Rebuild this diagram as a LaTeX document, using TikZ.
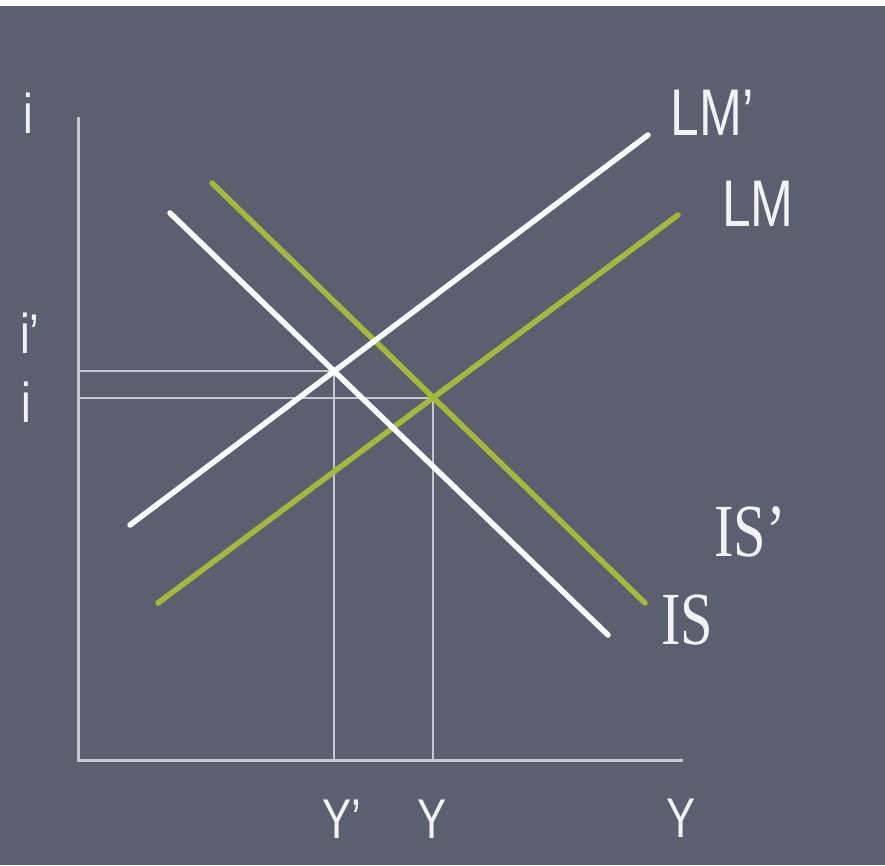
\documentclass[tikz,border=0pt]{standalone}
\usepackage{fontspec}
\setmainfont{Liberation Sans}
\newfontfamily\slabfont{Liberation Serif}
\usepackage{xcolor}
\definecolor{slate}{HTML}{5B5F6F}
\definecolor{curvegreen}{HTML}{A6B83C}
\definecolor{axisgray}{HTML}{C6C8D0}
\definecolor{labelwhite}{HTML}{F2F2F4}
\newcommand{\sq}[1]{\scalebox{0.78}[1]{#1}}

\begin{document}
\begin{tikzpicture}[x=1pt,y=-1pt,
    lbl/.style={text=labelwhite, inner sep=0pt, font=\fontsize{56}{60}\selectfont},
    curvelbl/.style={text=labelwhite, inner sep=0pt, font=\fontsize{66}{70}\selectfont},
    islbl/.style={text=labelwhite, inner sep=0pt, font=\slabfont\fontsize{75}{80}\selectfont},
    guide/.style={axisgray, line width=2pt},
    whiteline/.style={white, line width=5.5pt, line cap=round},
    greenline/.style={curvegreen, line width=5.5pt, line cap=round}]
    \fill[white] (0,0) rectangle (885,865);
    \fill[slate] (0,6) rectangle (885,865);
    \useasboundingbox (0,0) rectangle (885,865);

    % axes
    \coordinate (O) at (78,760);
    \coordinate (itop) at (78,117);
    \coordinate (yend) at (683,760);
    \draw[axisgray, line width=3pt] (itop) -- (O) -- (yend);

    % end points of the curves
    \coordinate (lmpA) at (130,525); \coordinate (lmpB) at (648,135);
    \coordinate (lmA) at (158,603);  \coordinate (lmB) at (678,215);
    \coordinate (ispA) at (170,213); \coordinate (ispB) at (608,635);
    \coordinate (isA) at (212,183);  \coordinate (isB) at (645,603);

    \coordinate (Ep) at (intersection of lmpA--lmpB and ispA--ispB);
    \coordinate (E) at (intersection of lmA--lmB and isA--isB);

    \draw[guide] (Ep -| O) -- (Ep) -- (Ep |- O);
    \draw[guide] (E -| O) -- (E) -- (E |- O);

    \draw[greenline] (lmA) -- (lmB);
    \draw[greenline] (isA) -- (isB);
    \draw[whiteline] (lmpA) -- (lmpB);
    \draw[whiteline] (ispA) -- (ispB);

    \node[curvelbl] (lmplabel) at (712,113) {\sq{LM’}};
    \node[curvelbl] (lmlabel) at (758,204) {\sq{LM}};
    \node[islbl] (isplabel) at (750,532) {\sq{IS’}};
    \node[islbl] (islabel) at (687,620) {\sq{IS}};

    \node[lbl] (iaxis) at (28,113) {\sq{i}};
    \node[lbl] (iplabel) at (30,333) {\sq{i’}};
    \node[lbl] (ilabel) at (26,402) {\sq{i}};
    \node[lbl] (yplabel) at (342,819) {\sq{Y’}};
    \node[lbl] (ylabel) at (432,819) {\sq{Y}};
    \node[lbl] (yaxis) at (681,818) {\sq{Y}};
\end{tikzpicture}
\end{document}
